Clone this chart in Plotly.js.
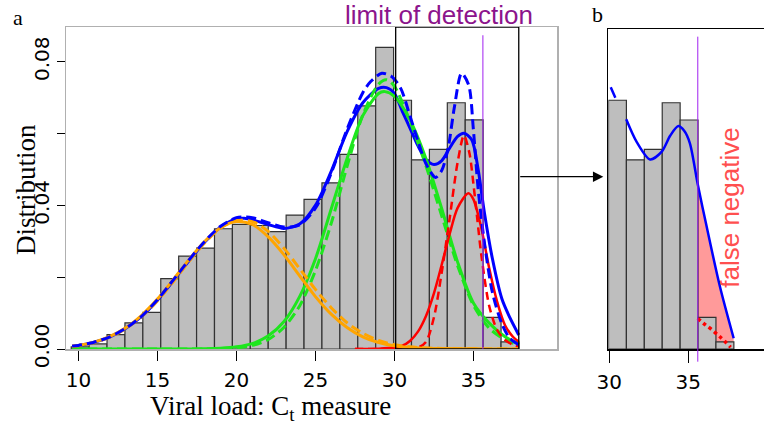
<!DOCTYPE html>
<html><head><meta charset="utf-8">
<script src="https://cdn.plot.ly/plotly-3.0.1.min.js"></script>
<style>html,body{margin:0;padding:0;background:#fff;}#chart{width:764px;height:424px;}</style>
</head><body><div id="chart"></div>
<script>
// ---------- data ----------
const binStart = 9.545, binWidth = 1.1335;
const density = [0.0006,0.0014,0.0040,0.0073,0.0102,0.0196,0.0259,0.0281,0.0335,0.0347,0.0344,0.0327,0.0373,0.0417,0.0463,0.0542,0.0677,0.0840,0.0693,0.0527,0.0556,0.0686,0.0638,0.0088,0.0020];
const xTicks = [10,15,20,25,30,35];
const yTicks = [0,0.02,0.04,0.06,0.08];
const yTickText = ['0.00','','0.04','','0.08'];
const bTicks = [30,35];
const LOD = 35.6;              // limit of detection
const zoomLo = 30.08, zoomHi = 37.87;

const orangeX = [9.6,10,11,12,13,14,15,16,17,18,19,20,21,22,23,24,25,26,27,28,29,30,31,32,34,36,37.87];
const orangeSolid = [.0008,.00097,.0019,.0035,.0059,.0094,.0139,.0193,.0249,.0300,.0338,.0355,.0347,.0313,.0263,.0204,.0146,.0097,.0060,.0034,.0018,.0009,.0004,.0002,.0001,0,0];
const orangeDash = [.0008,.00093,.0018,.0033,.0057,.0090,.0134,.0187,.0244,.0296,.0337,.0358,.0355,.0328,.0281,.0224,.0166,.0115,.0073,.0044,.0024,.0012,.0006,.0003,.0001,0,0];

const greenX = [9.6,12,15,17,18,19,20,21,22,23,24,25,26,27,28,29,29.4,30,31,32,33,34,35,36,37,37.87];
const greenSolid = [0,0,0,.00002,.00006,.0002,.0006,.0015,.0036,.0076,.0146,.0251,.0390,.0530,.0650,.0712,.0717,.0704,.0637,.0530,.0390,.0242,.0128,.0072,.0034,.0014];
const greenDX = [9.6,12,15,17,18,19,20,21,22,23,24,25,26,27,28,29,29.5,30,31,32,33,34,35,36,37,37.87];
const greenDash = [0,0,0,0,.00002,.0001,.0003,.0010,.0026,.0060,.0120,.0218,.0350,.0508,.0652,.0738,.0750,.0732,.0632,.0510,.0370,.0232,.0122,.0058,.0026,.0011];

const redX = [27.5,29,30,30.5,31,31.5,32,32.5,33,33.5,34,34.68,35,35.5,36,36.5,37,37.5,37.87];
const redSolid = [0,.0001,.0004,.0009,.0023,.0049,.0092,.0155,.0236,.0321,.0393,.0434,.0417,.0337,.0225,.0132,.0066,.0034,.0020];
const redDX = [27.5,30,31,31.5,32,32.5,33,33.5,34,34.4,34.75,35,35.25,35.5,36,36.5,37,37.5,37.87];
const redDash = [0,0,.0001,.0004,.0020,.0088,.0215,.0365,.0520,.0595,.0545,.0460,.0360,.0262,.0120,.0053,.0025,.0012,.0007];

const blueX = [9.6,10,11,12,13,14,15,16,17,18,19,20,20.5,21,22,23,24,25,26,27,28,29,29.5,30,30.5,31,31.5,32,32.5,33,33.5,34,34.4,34.9,35.3,35.7,36.2,36.8,37.3,37.87];
const blueSolid = [.0008,.0010,.0019,.0034,.0058,.0091,.0136,.0190,.0246,.0298,.0340,.0362,.0364,.0360,.0347,.0336,.0348,.0400,.0495,.0605,.0686,.0726,.0728,.0712,.0662,.0614,.0565,.0528,.0514,.0525,.0560,.0592,.0601,.0582,.0500,.0378,.0252,.0140,.0088,.0039];
const blueDX = [9.6,10,11,12,13,14,15,16,17,18,19,20,20.5,21,22,23,24,25,26,27,28,28.5,29.2,29.8,30.4,31,31.5,32,32.6,33,33.4,33.8,34.25,34.7,35,35.3,35.7,36.2,36.8,37.3,37.87];
const blueDash = [.0008,.0010,.0019,.0034,.0058,.0091,.0137,.0192,.0248,.0300,.0342,.0366,.0368,.0366,.0352,.0340,.0346,.0392,.0490,.0612,.0714,.0745,.0768,.0760,.0726,.0647,.0578,.0516,.0478,.0498,.0560,.0675,.0768,.0735,.0610,.0445,.0295,.0158,.0070,.0030,.0012];

// panel b curve (null = hidden behind first bar)
const bCurveX = [30.09,30.38,null,31.07,31.73,32.58,33.32,33.85,34.37,34.75,35.1,35.6,36.16,37.0,37.87];
const bCurveY = [.0729,.0700,null,.0640,.0577,.0528,.0550,.0594,.0621,.0607,.0573,.0458,.0341,.0174,.0030];
const fnDotX = [35.6,36.0,36.37,37.0,37.68];
const fnDotY = [.0085,.0070,.0058,.0034,.0005];

// ---------- traces ----------
const centers = density.map((_, i) => binStart + (i + 0.5) * binWidth);
const barStyle = {color:'#bebebe', line:{color:'#333333', width:1.2}};
function curve(x, y, color, dash, w, xa, ya){
  return {type:'scatter', mode:'lines', x:x, y:y, xaxis:xa||'x', yaxis:ya||'y', cliponaxis:false,
    line:{color:color, width:w||3, dash:dash||'solid', shape:'spline', smoothing:0.8}, hoverinfo:'skip'};
}
const D = '10px,5px';
const traces = [
  {type:'bar', x:centers, y:density, width:binWidth, marker:barStyle, xaxis:'x', yaxis:'y', hoverinfo:'skip'},
  curve(blueX, blueSolid, '#0000ff', 'solid', 3),
  curve(greenX, greenSolid, '#1ee61e', 'solid', 3),
  curve(greenDX, greenDash, '#1ee61e', D, 3),
  curve(redX, redSolid, '#ff0000', 'solid', 2.5),
  curve(redDX, redDash, '#ff0000', '8px,5px', 2.5),
  curve(orangeX, orangeSolid, '#ffa500', 'solid', 3),
  curve(orangeX, orangeDash, '#ffa500', D, 3),
  curve(blueDX, blueDash, '#0000ff', D, 3)
];
// panel b: pink false-negative area (base subplot, below bars)
const fx = [], fy = [];
bCurveX.forEach((v, i) => { if (v !== null && v >= LOD) { fx.push(v); fy.push(bCurveY[i]); } });
traces.push({type:'scatter', mode:'none', x:fx, y:fy, fill:'tozeroy', fillcolor:'#ff9a9a',
  line:{shape:'spline', smoothing:0.8, width:0}, xaxis:'x2', yaxis:'y2', hoverinfo:'skip'});
// panel b bars on overlay axes
const bIdx = centers.map((c, i) => i).filter(i => centers[i] > 29.9);
traces.push({type:'bar', x:bIdx.map(i => centers[i]), y:bIdx.map(i => density[i]), width:binWidth,
  marker:barStyle, xaxis:'x3', yaxis:'y3', cliponaxis:false, hoverinfo:'skip'});
traces.push({type:'scatter', mode:'lines', x:fnDotX, y:fnDotY, xaxis:'x3', yaxis:'y3', cliponaxis:false,
  line:{color:'#ff0000', width:3.5, dash:'dot', shape:'spline'}, hoverinfo:'skip'});
traces.push(Object.assign(curve(bCurveX, bCurveY, '#0000ff', 'solid', 2.5, 'x3', 'y3'), {connectgaps:false}));

// ---------- layout ----------
const tickFont = {family:'DejaVu Sans', size:20, color:'#000'};
const serif = 'Liberation Serif';
const yTopA = 0.0897, bDomTop = 0.99286;
function label(x, y, text, font, angle){
  return {xref:'paper', yref:'paper', x:x, y:y, xanchor:'center', yanchor:'middle', text:text,
    showarrow:false, font:font, textangle:angle||0};
}
const layout = {
  width:764, height:424, margin:{l:66, r:0, t:27, b:75},
  paper_bgcolor:'#fff', plot_bgcolor:'rgba(0,0,0,0)', showlegend:false, bargap:0, barmode:'overlay',
  xaxis:{domain:[0,0.70344], range:[9.215,40.29], tickvals:xTicks, ticks:'outside', ticklen:10, tickwidth:1,
    tickcolor:'#000', showline:true, linecolor:'#b0b0b0', linewidth:1.5, mirror:true, showgrid:false,
    zeroline:false, tickfont:tickFont, ticklabelstandoff:2, anchor:'y'},
  yaxis:{domain:[0,1], range:[0,yTopA], tickvals:yTicks, ticktext:yTickText, tickangle:-90, ticks:'outside',
    ticklen:8, tickwidth:1, tickcolor:'#000', showline:true, linecolor:'#b0b0b0', linewidth:1.5, mirror:true,
    showgrid:false, zeroline:false, tickfont:tickFont, anchor:'x'},
  xaxis2:{domain:[0.7771,1], range:[29.943,39.79], tickvals:bTicks, ticks:'outside', ticklen:12, tickwidth:1,
    tickcolor:'#000', showline:true, linecolor:'#000', linewidth:1.5, mirror:true, showgrid:false,
    zeroline:false, tickfont:tickFont, ticklabelstandoff:2, anchor:'y2', layer:'below traces'},
  yaxis2:{domain:[0,bDomTop], range:[0,yTopA*bDomTop], showline:true, linecolor:'#000', linewidth:1.2,
    showticklabels:false, ticks:'', showgrid:false, zeroline:false, anchor:'x2', layer:'below traces'},
  xaxis3:{overlaying:'x2', range:[29.943,39.79], visible:false, anchor:'y3'},
  yaxis3:{overlaying:'y2', range:[0,yTopA*bDomTop], visible:false, anchor:'x3'},
  shapes:[
    {type:'rect', xref:'x', yref:'y', x0:zoomLo, x1:zoomHi, y0:0, y1:yTopA, line:{color:'#000', width:1.3}, layer:'above'},
    {type:'line', xref:'x', yref:'y', x0:LOD, x1:LOD, y0:0, y1:0.0874, line:{color:'#a020f0', width:1}},
    {type:'line', xref:'x2', yref:'paper', x0:LOD, x1:LOD, y0:-0.0394, y1:0.970, line:{color:'#a020f0', width:1}}
  ],
  annotations:[
    label(-0.0688, 1.028, 'a', {family:serif, size:22, color:'#000'}),
    label(0.762, 1.040, 'b', {family:serif, size:22, color:'#000'}),
    label(0.534, 1.038, 'limit of detection', {family:'Liberation Sans', size:26, color:'#8c148c'}),
    label(0.951, 0.438, 'false negative', {family:'Liberation Sans', size:26, color:'#ff4f4f'}, -90),
    label(0.2923, -0.183, 'Viral load: C<sub>t</sub> measure', {family:serif, size:27, color:'#000'}),
    label(-0.0573, 0.494, 'Distribution', {family:serif, size:27, color:'#000'}, -90),
    {xref:'paper', yref:'paper', x:0.7698, y:0.5351, ax:-84.6, ay:0, text:'', showarrow:true,
      arrowhead:2, arrowsize:1.6, arrowwidth:1.3, arrowcolor:'#000', standoff:0}
  ]
};
Plotly.newPlot('chart', traces, layout, {staticPlot:true, displayModeBar:false});
</script></body></html>
